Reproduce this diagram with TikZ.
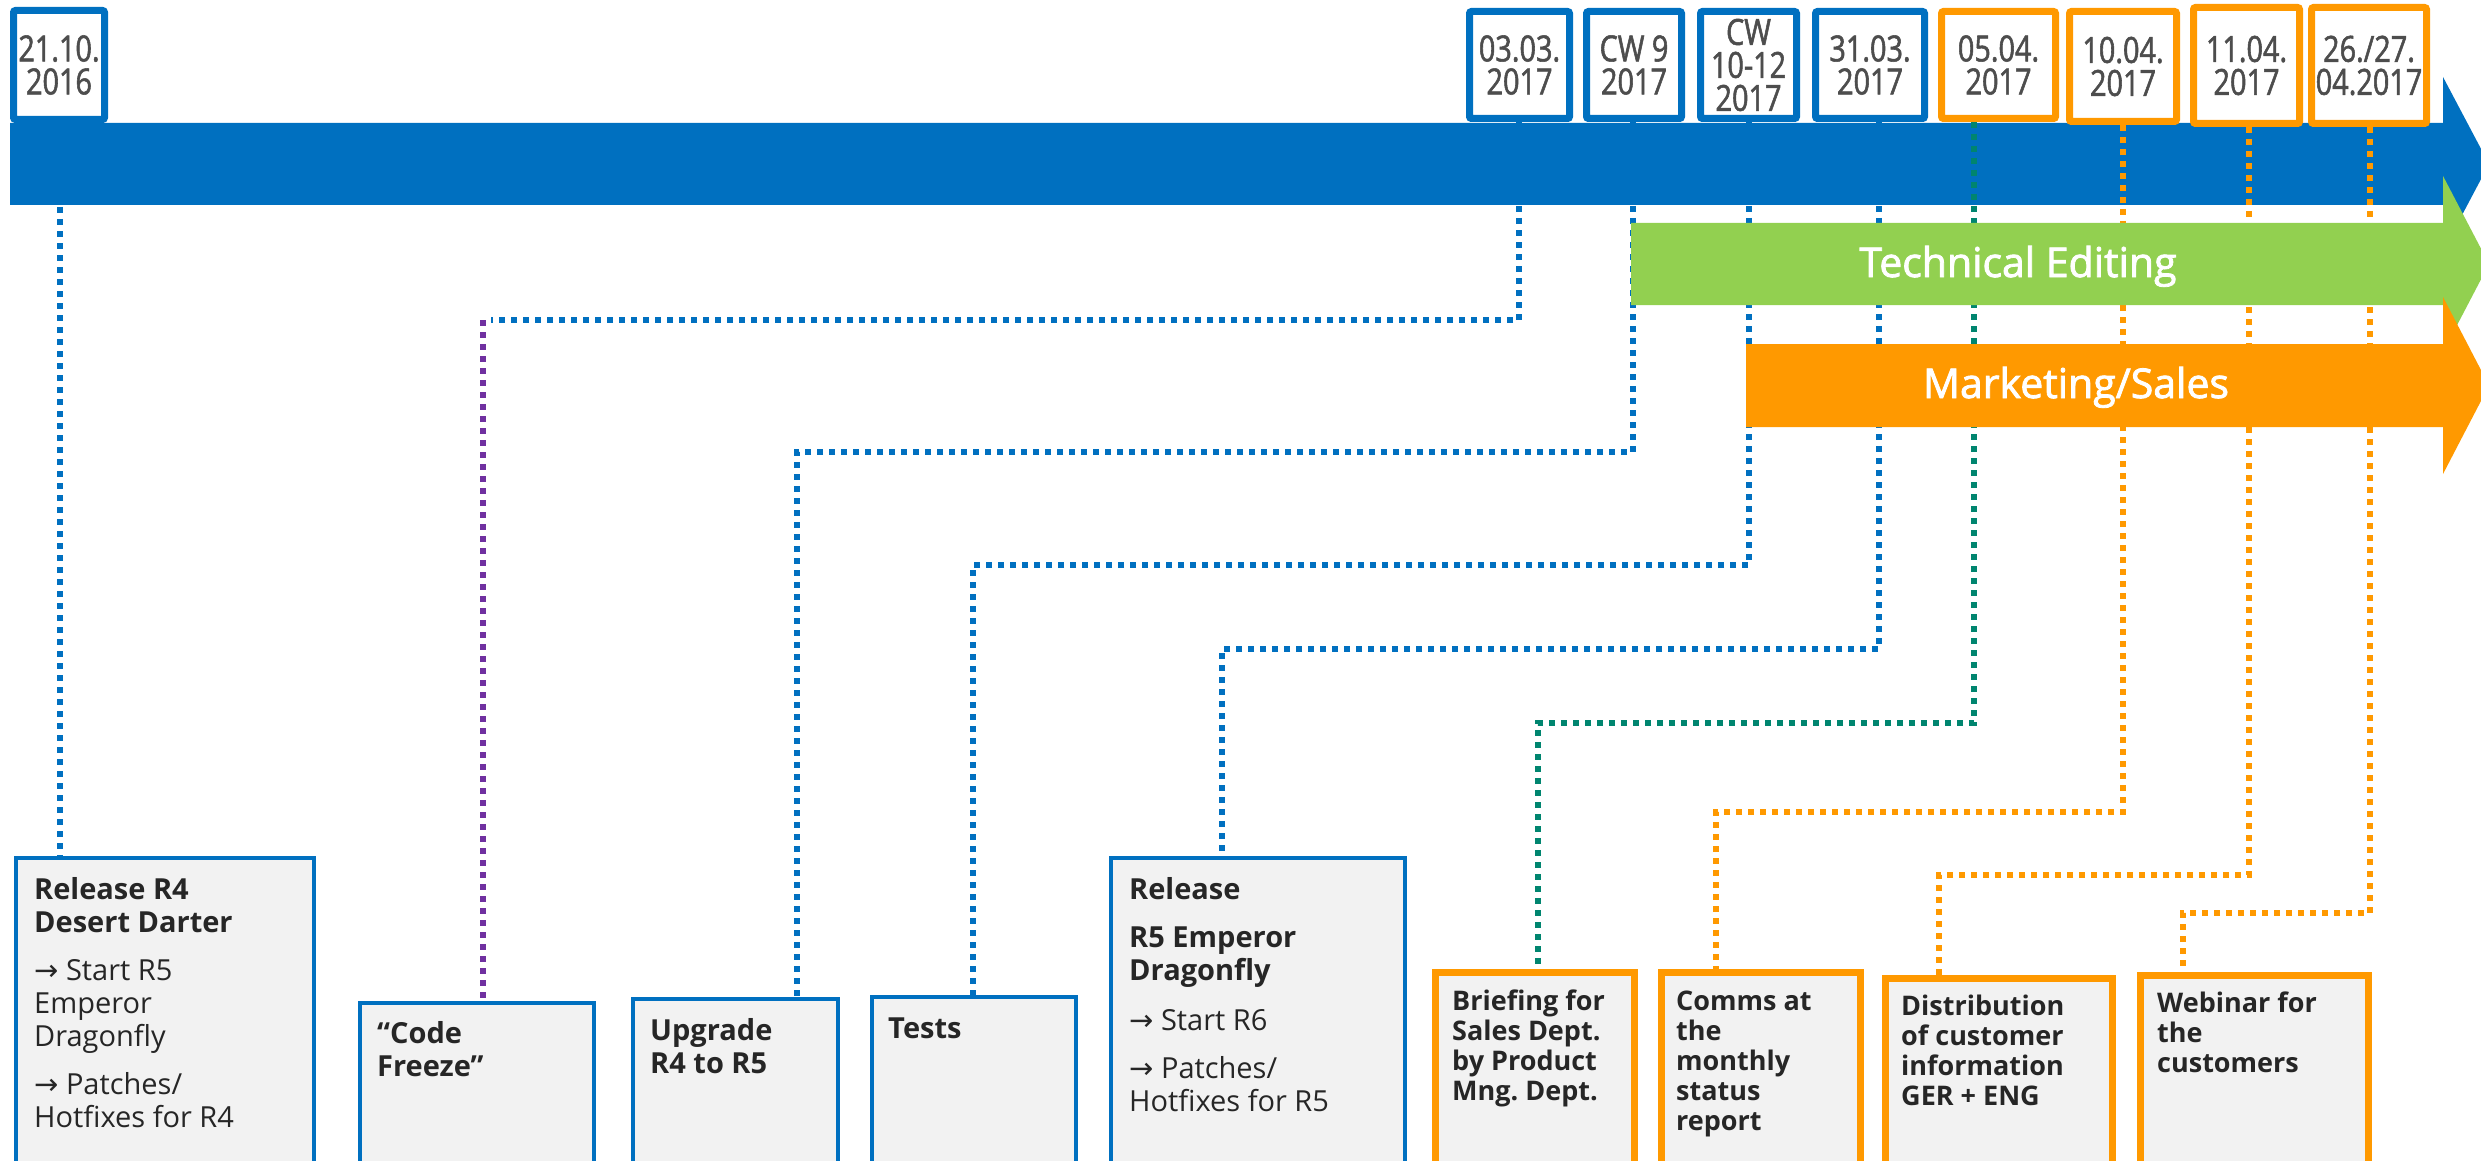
\documentclass[tikz,border=0pt]{standalone}
\usepackage{fontspec}
\setmainfont{Open Sans}
\newfontfamily\datefont[FakeStretch=0.8, FakeBold=1.5]{Open Sans}
\newfontfamily\barfont[FakeBold=2]{Open Sans}
\newfontfamily\arrowglyphfont{DejaVu Sans}
\newcommand{\myarr}{{\arrowglyphfont →}}
\frenchspacing
\definecolor{cBlue}{HTML}{0070C0}
\definecolor{cGreen}{HTML}{92D050}
\definecolor{cOrange}{HTML}{FF9900}
\definecolor{cPurple}{HTML}{7030A0}
\definecolor{cTeal}{HTML}{00856F}
\definecolor{cFill}{HTML}{F2F2F2}
\definecolor{cDate}{HTML}{4D4D4D}
\definecolor{cText}{HTML}{262626}
\tikzset{
  datebox/.style={draw, line width=7pt, fill=white, rounded corners=2pt, align=center,
    inner sep=0pt, font=\datefont\fontsize{36}{33}\selectfont, text=cDate},
  bluedate/.style={datebox, draw=cBlue},
  orangedate/.style={datebox, draw=cOrange},
  cbox/.style={fill=cFill, anchor=north west, inner sep=0pt, minimum height=320pt},
  bluebox/.style={cbox, draw=cBlue, line width=4pt},
  orangebox/.style={cbox, draw=cOrange, line width=6.5pt},
  btext/.style={anchor=base west, inner sep=0pt, text=cText, font=\fontsize{29}{33}\selectfont},
  otext/.style={anchor=base west, inner sep=0pt, text=cText, font=\fontsize{27}{30}\selectfont\bfseries},
  dots/.style={line width=6pt, dash pattern=on 6pt off 6pt},
  barlabel/.style={text=white, font=\barfont\fontsize{41}{41}\selectfont, anchor=base, inner sep=0pt}
}
\begin{document}
\begin{tikzpicture}[x=1pt,y=-1pt]
\useasboundingbox (0,0) rectangle (2481,1161);
\clip (0,0) rectangle (2481,1161);

% main timeline arrow
\fill[cBlue] (10,123) -- (2443,123) -- (2443,77) -- (2489,164) -- (2443,251) -- (2443,205) -- (10,205) -- cycle;

% anchor points at the bottom of the date boxes and bends
\coordinate (s1) at (60,123);
\coordinate (s2) at (1519,122);
\coordinate (s3) at (1633,122);
\coordinate (s4) at (1749,122);
\coordinate (s5) at (1879,122);
\coordinate (s6) at (1974,122);
\coordinate (s7) at (2123,125);
\coordinate (s8) at (2249,127);
\coordinate (s9) at (2370,127);
\coordinate (k2) at (483,320);
\coordinate (k3) at (797,452);
\coordinate (k4) at (973,565);
\coordinate (k5) at (1222,649);
\coordinate (k6) at (1538,723);
\coordinate (k7) at (1716,812);
\coordinate (k8) at (1939,875);
\coordinate (k9) at (2183,913);

% content boxes
\node[bluebox, minimum width=298pt] (b1) at (14,856) {};
\node[bluebox, minimum width=234pt] (b2) at (358,1001) {};
\node[bluebox, minimum width=205pt] (b3) at (631,997) {};
\node[bluebox, minimum width=204pt] (b4) at (870,995) {};
\node[bluebox, minimum width=294pt] (b5) at (1109,856) {};
\node[orangebox, minimum width=199pt] (o1) at (1432,969) {};
\node[orangebox, minimum width=199pt] (o2) at (1658,969) {};
\node[orangebox, minimum width=227pt] (o3) at (1882,975) {};
\node[orangebox, minimum width=228pt] (o4) at (2137,972) {};

% dotted connectors
\draw[dots, cBlue] (s1) -- (s1 |- b1.north);
\draw[dots, cBlue] (s2) |- ([xshift=8pt]k2);
\draw[dots, cPurple] (k2) -- (k2 |- b2.north);
\draw[dots, cBlue] (s3) |- (k3) -- (k3 |- b3.north);
\draw[dots, cBlue] (s4) |- (k4) -- (k4 |- b4.north);
\draw[dots, cBlue] (s5) |- (k5) -- (k5 |- b5.north);
\draw[dots, cTeal] (s6) |- (k6) -- (k6 |- o1.north);
\draw[dots, cOrange] (s7) |- (k7) -- (k7 |- o2.north);
\draw[dots, cOrange] (s8) |- (k8) -- (k8 |- o3.north);
\draw[dots, cOrange] (s9) |- (k9) -- (k9 |- o4.north);

% phase arrows
\fill[cGreen] (1631,223) -- (2443,223) -- (2443,176) -- (2489,264) -- (2443,352) -- (2443,305) -- (1631,305) -- cycle;
\fill[cOrange] (1746,344) -- (2443,344) -- (2443,297) -- (2489,385.5) -- (2443,474) -- (2443,427) -- (1746,427) -- cycle;
\node[barlabel] (te) at (2018,277) {Technical Editing};
\node[barlabel] (ms) at (2076,398) {Marketing/Sales};

% date boxes
\node[bluedate, minimum width=91pt, minimum height=109pt] (d1) at (59,65) {21.10.\\2016};
\node[bluedate, minimum width=100pt, minimum height=107pt] (d2) at (1519.5,65) {03.03.\\2017};
\node[bluedate, minimum width=95pt, minimum height=107pt] (d3) at (1634,65) {CW 9\\2017};
\node[bluedate, minimum width=96pt, minimum height=107pt] (d4) at (1748.5,65) {CW\\10-12\\2017};
\node[bluedate, minimum width=109pt, minimum height=107pt] (d5) at (1870,65) {31.03.\\2017};
\node[orangedate, minimum width=114pt, minimum height=107pt] (d6) at (1998.5,65) {05.04.\\2017};
\node[orangedate, minimum width=107pt, minimum height=110pt] (d7) at (2123,66.5) {10.04.\\2017};
\node[orangedate, minimum width=106pt, minimum height=116pt] (d8) at (2246.5,65.5) {11.04.\\2017};
\node[orangedate, minimum width=115pt, minimum height=116pt] (d9) at (2369,65.5) {26./27.\\04.2017};

% box texts
\node[btext] (t1) at (34,899) {\parbox[t]{275pt}{\raggedright\textbf{Release R4}\\\textbf{Desert Darter}\\[15pt]\myarr{} Start R5\\Emperor\\Dragonfly\\[15pt]\myarr{} Patches/\\Hotfixes for R4}};
\node[btext] (t2) at (377,1043) {\parbox[t]{210pt}{\raggedright\bfseries “Code\\Freeze”}};
\node[btext] (t3) at (650,1040) {\parbox[t]{180pt}{\raggedright\bfseries Upgrade\\R4 to R5}};
\node[btext] (t4) at (888,1038) {\parbox[t]{180pt}{\raggedright\bfseries Tests}};
\node[btext] (t5) at (1129,899) {\parbox[t]{270pt}{\raggedright\textbf{Release}\\[15pt]\textbf{R5 Emperor}\\\textbf{Dragonfly}\\[17pt]\myarr{} Start R6\\[15pt]\myarr{} Patches/\\Hotfixes for R5}};
\node[otext] (u1) at (1452,1010) {\parbox[t]{180pt}{\raggedright Briefing for\\Sales Dept.\\by Product\\Mng. Dept.}};
\node[otext] (u2) at (1676,1010) {\parbox[t]{180pt}{\raggedright Comms at\\the\\monthly\\status\\report}};
\node[otext] (u3) at (1901,1015) {\parbox[t]{200pt}{\raggedright Distribution\\of customer\\information\\GER + ENG}};
\node[otext] (u4) at (2157,1012) {\parbox[t]{200pt}{\raggedright Webinar for\\the\\customers}};
\end{tikzpicture}
\end{document}
